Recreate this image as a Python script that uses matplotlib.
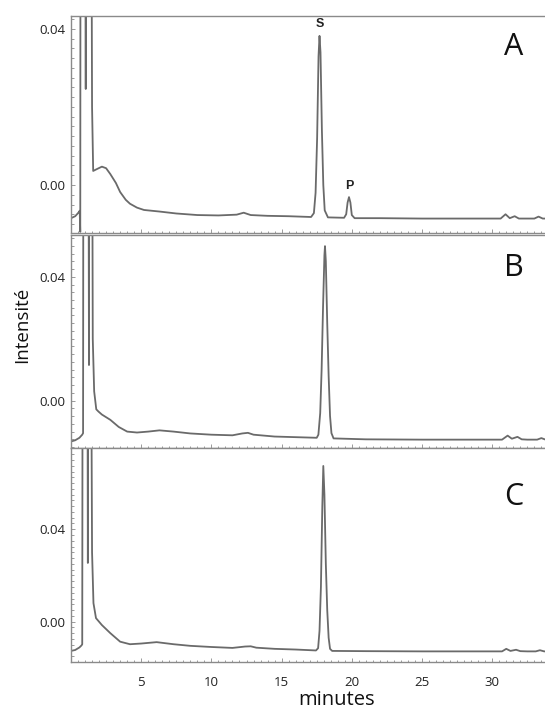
import matplotlib
matplotlib.use("Agg")
import matplotlib.pyplot as plt
from matplotlib.ticker import MultipleLocator

# ---------------- data ----------------
time_A = [0, 0.3, 0.55, 0.62, 0.66, 0.70, 0.98, 1.05, 1.1, 1.35, 1.5, 1.58, 1.8, 2.2, 2.5,
          2.8, 3.2, 3.5, 3.9, 4.2, 4.7, 5.2, 6.3, 7.5, 9.0, 10.5, 11.8, 12.3, 12.8, 14.0,
          15.5, 17.1, 17.3, 17.42, 17.53, 17.63, 17.7, 17.77, 17.87, 17.97, 18.07, 18.3,
          19.45, 19.6, 19.7, 19.8, 19.9, 20.0, 20.2, 22.0, 25.0, 28.0, 30.6, 30.95, 31.25,
          31.6, 31.9, 32.3, 33.0, 33.3, 33.6, 34.0]
int_A = [-0.0085, -0.0080, -0.0070, -0.0066, -0.0120, 0.2, 0.2, 0.0246, 0.2, 0.2, 0.02,
         0.0036, 0.0040, 0.0047, 0.0043, 0.0028, 0.0005, -0.0018, -0.0038, -0.0048, -0.0058,
         -0.0064, -0.0068, -0.0073, -0.0077, -0.0078, -0.0076, -0.0071, -0.0077, -0.0079,
         -0.0080, -0.0082, -0.0072, -0.0020, 0.0120, 0.0330, 0.0382, 0.0340, 0.0140, 0.0000,
         -0.0065, -0.0083, -0.0084, -0.0075, -0.0045, -0.0031, -0.0045, -0.0077, -0.0085,
         -0.0085, -0.0086, -0.0086, -0.0086, -0.0075, -0.0085, -0.0080, -0.0086, -0.0086,
         -0.0086, -0.0081, -0.0086, -0.0086]

time_B = [0, 0.3, 0.6, 0.8, 0.86, 0.9, 1.2, 1.28, 1.33, 1.45, 1.55, 1.65, 1.8, 1.95, 2.2,
          2.8, 3.4, 4.0, 4.7, 5.5, 6.3, 7.3, 8.5, 10.0, 11.5, 12.2, 12.6, 13.0, 14.5, 16.0,
          17.5, 17.62, 17.75, 17.85, 17.95, 18.05, 18.09, 18.15, 18.25, 18.35, 18.45, 18.55,
          18.7, 21.0, 25.0, 28.0, 30.7, 31.1, 31.4, 31.8, 32.1, 32.5, 33.2, 33.5, 33.8, 34.0]
int_B = [-0.0132, -0.0128, -0.0120, -0.0110, -0.0105, 0.2, 0.2, 0.0115, 0.2, 0.2, 0.02,
         0.003, -0.0028, -0.0035, -0.0045, -0.0062, -0.0085, -0.0100, -0.0103, -0.0100,
         -0.0096, -0.0100, -0.0106, -0.0110, -0.0112, -0.0106, -0.0104, -0.0110, -0.0116,
         -0.0118, -0.0120, -0.0110, -0.0040, 0.0100, 0.0300, 0.0470, 0.0499, 0.0450, 0.0250,
         0.0080, -0.0050, -0.0105, -0.0122, -0.0125, -0.0126, -0.0126, -0.0126, -0.0113,
         -0.0123, -0.0117, -0.0125, -0.0126, -0.0126, -0.0121, -0.0126, -0.0126]

time_C = [0, 0.3, 0.6, 0.75, 0.8, 0.84, 1.15, 1.2, 1.25, 1.38, 1.5, 1.6, 1.78, 2.2, 2.8,
          3.5, 4.2, 5.0, 6.1, 7.3, 8.5, 10.0, 11.5, 12.4, 12.8, 13.2, 14.5, 16.0, 17.45,
          17.6, 17.7, 17.8, 17.9, 17.97, 18.05, 18.15, 18.25, 18.35, 18.45, 18.6, 21.0,
          25.0, 28.0, 30.7, 31.0, 31.3, 31.7, 32.0, 32.5, 33.1, 33.4, 33.7, 34.0]
int_C = [-0.0127, -0.0123, -0.0112, -0.0103, -0.0098, 0.2, 0.2, 0.0254, 0.2, 0.2, 0.03,
         0.008, 0.0015, -0.0015, -0.0050, -0.0087, -0.0098, -0.0095, -0.0089, -0.0098,
         -0.0105, -0.0110, -0.0114, -0.0108, -0.0107, -0.0113, -0.0118, -0.0121, -0.0125,
         -0.0115, -0.0040, 0.0150, 0.0500, 0.0674, 0.0550, 0.0250, 0.0050, -0.0070,
         -0.0118, -0.0127, -0.0128, -0.0129, -0.0129, -0.0129, -0.0118, -0.0127, -0.0122,
         -0.0128, -0.0129, -0.0129, -0.0124, -0.0129, -0.0129]

panel_labels = ["A", "B", "C"]
ylims = [(-0.0123, 0.0433), (-0.0153, 0.0535), (-0.0175, 0.0754)]
ytick_vals = [0.00, 0.04]
ytick_labels = ["0.00", "0.04"]
xtick_vals = [5, 10, 15, 20, 25, 30]
xtick_labels = ["5", "10", "15", "20", "25", "30"]
peak_names = ["S", "P"]
peak_pos = [(17.7, 0.0382), (19.8, -0.0031)]

# ---------------- figure ----------------
W, H = 545, 711
fig = plt.figure(figsize=(W / 100, H / 100), dpi=100)
fig.patch.set_facecolor("white")

boxes_px = [(16, 233), (235, 448), (447.5, 662)]  # top, bottom in pixels
letter_y_px = [47, 268, 497]
left_px = 71
line_col = "#6a6a6a"
spine_col = "#8a8a8a"
ufont = "Open Sans"

traces = [(time_A, int_A), (time_B, int_B), (time_C, int_C)]
axes = []
for i, ((top, bot), (tt, yy)) in enumerate(zip(boxes_px, traces)):
    ax = fig.add_axes([left_px / W, 1 - bot / H, 1.0 - left_px / W, (bot - top) / H])
    ax.plot(tt, yy, color=line_col, lw=1.3, solid_joinstyle="round")
    ax.set_xlim(0, 33.76)
    ax.set_ylim(*ylims[i])
    ax.set_yticks(ytick_vals)
    ax.set_yticklabels(ytick_labels, fontfamily=ufont, fontsize=9.5, color="#222222")
    ax.yaxis.set_minor_locator(MultipleLocator(0.0025))
    ax.xaxis.set_minor_locator(MultipleLocator(0.5))
    ax.set_xticks(xtick_vals)
    ax.tick_params(axis="both", which="both", direction="in", color=spine_col, width=0.6)
    ax.tick_params(axis="both", which="major", length=3)
    ax.tick_params(axis="both", which="minor", length=1.8)
    ax.tick_params(axis="y", which="major", pad=4)
    ax.tick_params(axis="x", which="major", pad=10)
    if i < 2:
        ax.set_xticklabels([])
    else:
        ax.set_xticklabels(xtick_labels, fontfamily=ufont, fontsize=9.5, color="#222222")
    ax.spines["right"].set_visible(False)
    for s in ["left", "top", "bottom"]:
        ax.spines[s].set_color(spine_col)
        ax.spines[s].set_linewidth(1.0)
    fig.text(514 / W, 1 - letter_y_px[i] / H, panel_labels[i], fontfamily=ufont,
             fontsize=22, color="#111111", ha="center", va="center")
    axes.append(ax)

# peak names in panel A
for name, (px, py) in zip(peak_names, peak_pos):
    axes[0].annotate(name, (px, py), xytext=(0, 4), textcoords="offset points",
                     ha="center", va="bottom", fontsize=9, fontweight="bold",
                     fontfamily="Liberation Sans", color="#222222")

fig.text(22 / W, 1 - 325 / H, "Intensité", rotation=90, ha="center", va="center",
         fontfamily=ufont, fontsize=13.5, color="#111111")
fig.text(337 / W, 1 - 700 / H, "minutes", ha="center", va="center",
         fontfamily=ufont, fontsize=14.5, color="#111111")

fig.savefig("out.png", dpi=100, facecolor="white")
